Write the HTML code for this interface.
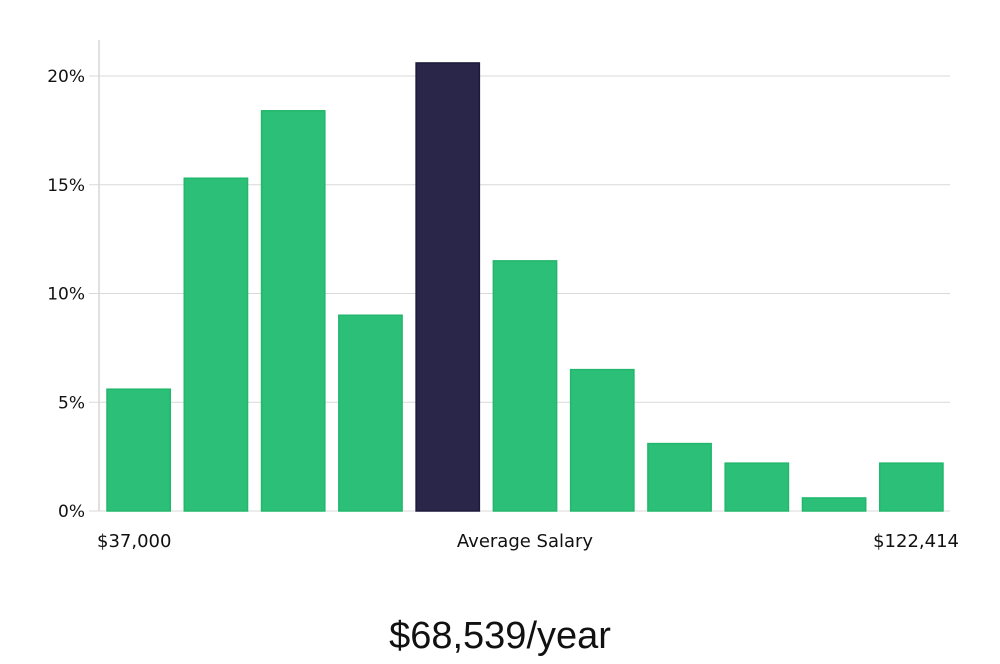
<!DOCTYPE html>
<html><head><meta charset="utf-8"><style>
body{margin:0;background:#fff;width:1000px;height:660px;overflow:hidden;font-family:"DejaVu Sans","Liberation Sans",sans-serif}
</style></head><body>
<svg id="c" width="1000" height="660"></svg>
<script>
const categories=["b1","b2","b3","b4","b5","b6","b7","b8","b9","b10","b11"];
const values=[5.6,15.3,18.4,9.0,20.6,11.5,6.5,3.1,2.2,0.6,2.2];
const highlightIndex=4;
const yTicks=[0,5,10,15,20];
const yTickLabels=["0%","5%","10%","15%","20%"];
const ns="http://www.w3.org/2000/svg",svg=document.getElementById('c');
const x0=100,x1=950,y0=511,pxPer=21.75;
const y=v=>y0-v*pxPer;
const step=(x1-x0)/categories.length;
function el(t,a,p){const e=document.createElementNS(ns,t);for(const k in a)e.setAttribute(k,a[k]);(p||svg).appendChild(e);return e;}
const ax=el('line',{x1:99,y1:40,x2:99,y2:511,stroke:'#d6d6d6','stroke-width':1.5});


yTicks.forEach((t,i)=>{
  const g=el('line',{x1:89,y1:y(t),x2:950,y2:y(t),stroke:'#d9d9d9','stroke-width':1});
  
  
  const l=el('text',{x:85,y:y(t)+6,'text-anchor':'end','font-size':17,fill:'#111'});
  l.textContent=yTickLabels[i];
  
  
});
values.forEach((v,i)=>{
  const bx=x0+i*step+7,w=step-14;
  const hi=i===highlightIndex;
  const r=el('rect',{x:bx,y:y(v),width:w,height:y0-y(v),fill:hi?'#29264a':'#2bbf77',stroke:hi?'#1c1a3a':'#22b76c','stroke-width':1.5});
  
  
});
[["$37,000",97,'start','x-min-label'],["Average Salary",525,'middle','x-average-label'],["$122,414",959,'end','x-max-label']].forEach(a=>{
  const t=el('text',{x:a[1],y:547,'text-anchor':a[2],'font-size':18,fill:'#111'});
  t.textContent=a[0];
  
  
});
const s=el('text',{x:500,y:648,'text-anchor':'middle','font-size':38,fill:'#111','font-family':'"Liberation Sans",sans-serif'});
s.textContent="$68,539/year";


</script>
</body></html>
